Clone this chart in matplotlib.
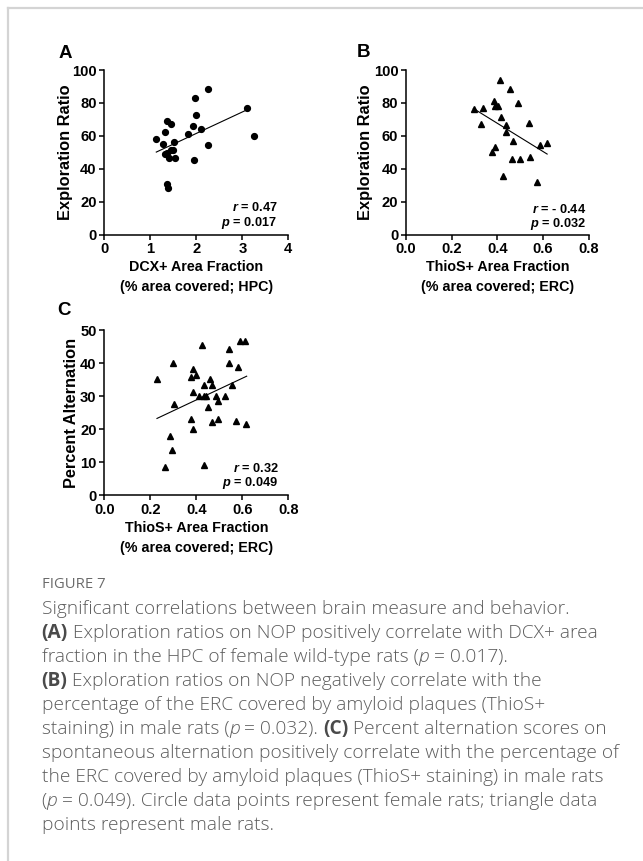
import numpy as np
import matplotlib
matplotlib.use('Agg')
import matplotlib.pyplot as plt
from matplotlib.lines import Line2D

# ---- data ----
# panel A: DCX+ area fraction vs exploration ratio (females, circles)
dcx_a = [1.13, 1.28, 1.33, 1.37, 1.46, 1.31, 1.37, 1.44, 1.50, 1.52, 1.41, 1.53,
         1.36, 1.39, 1.81, 1.92, 1.97, 2.00, 2.10, 1.95, 2.25, 2.25, 3.11, 3.25]
expl_a = [57.8, 54.8, 62.3, 69.0, 67.0, 49.2, 49.8, 51.6, 51.6, 56.0, 46.4, 46.4,
          30.8, 28.4, 61.0, 66.1, 82.8, 72.8, 64.1, 45.3, 88.2, 54.4, 76.7, 59.6]
fit_a_x = [1.13, 3.14]
fit_a_y = [50.1, 76.3]

# panel B: ThioS+ area fraction (ERC) vs exploration ratio (males, triangles)
thio_b = [0.298, 0.337, 0.327, 0.387, 0.390, 0.401, 0.413, 0.416, 0.438, 0.439,
          0.454, 0.390, 0.378, 0.470, 0.491, 0.464, 0.498, 0.426, 0.540, 0.545,
          0.588, 0.619, 0.574]
expl_b = [76.3, 77.1, 67.1, 81.3, 77.9, 77.9, 94.1, 71.6, 66.5, 62.5,
          88.2, 53.3, 50.1, 56.8, 79.9, 45.6, 46.2, 35.7, 68.0, 47.1,
          54.6, 55.8, 32.0]
fit_b_x = [0.295, 0.618]
fit_b_y = [76.6, 48.9]

# panel C: ThioS+ area fraction (ERC) vs percent alternation (males, triangles)
thio_c = [0.230, 0.297, 0.265, 0.286, 0.294, 0.301, 0.375, 0.387, 0.386, 0.375,
          0.397, 0.386, 0.410, 0.425, 0.433, 0.433, 0.442, 0.449, 0.435, 0.461,
          0.470, 0.468, 0.487, 0.494, 0.493, 0.525, 0.543, 0.541, 0.554, 0.583,
          0.590, 0.613, 0.571, 0.616]
alt_c = [35.1, 40.1, 8.4, 17.9, 13.6, 27.7, 23.1, 20.1, 38.1, 35.7,
         36.3, 31.3, 29.9, 45.6, 33.3, 29.9, 29.9, 26.8, 9.2, 35.3,
         33.2, 22.1, 29.9, 28.5, 23.0, 29.9, 39.9, 44.3, 33.3, 38.8,
         46.8, 46.8, 22.5, 21.5]
fit_c_x = [0.229, 0.619]
fit_c_y = [23.2, 36.0]

W, H = 643, 861
fig = plt.figure(figsize=(W / 100, H / 100), dpi=100)
fig.patch.set_facecolor('white')

ARIAL = 'Liberation Sans'
plt.rcParams['mathtext.fontset'] = 'custom'
plt.rcParams['mathtext.bfit'] = ARIAL + ':italic:bold'
plt.rcParams['mathtext.it'] = ARIAL + ':italic:bold'


def px_axes(left, top, right, bottom):
    return fig.add_axes([left / W, 1 - bottom / H, (right - left) / W, (bottom - top) / H])


def style_axes(ax, xlim, ylim, xticks, yticks, xfmt, ylabel, xlabel, ylab_off):
    ax.set_xlim(*xlim)
    ax.set_ylim(*ylim)
    ax.set_xticks(xticks)
    ax.set_yticks(yticks)
    ax.set_xticklabels([xfmt % v for v in xticks])
    ax.set_yticklabels(['%d' % v for v in yticks])
    for s in ['top', 'right']:
        ax.spines[s].set_visible(False)
    for s in ['left', 'bottom']:
        ax.spines[s].set_linewidth(1.1)
    ax.tick_params(direction='out', length=3.5, width=1.1, pad=2, labelsize=10.6)
    for lab in ax.get_xticklabels() + ax.get_yticklabels():
        lab.set_fontfamily(ARIAL)
        lab.set_fontweight('bold')
    ax.set_ylabel(ylabel, fontfamily=ARIAL, fontweight='bold', fontsize=11.8)
    ax.yaxis.set_label_coords(ylab_off, 0.5)
    ax.set_xlabel(xlabel, fontfamily=ARIAL, fontweight='bold', fontsize=10.3, linespacing=1.5)
    ax.xaxis.set_label_coords(0.5, -0.158)
    ax.patch.set_alpha(0)


def stats_text(ax, x, y_r, y_p, r, p):
    ax.text(x, y_r, r'$\bfit{r}$ = ' + r, transform=ax.transAxes, ha='right', va='center',
            fontfamily=ARIAL, fontweight='bold', fontsize=9.2)
    ax.text(x, y_p, r'$\bfit{p}$ = ' + p, transform=ax.transAxes, ha='right', va='center',
            fontfamily=ARIAL, fontweight='bold', fontsize=9.2)


# panel A
axA = px_axes(104.3, 70, 288.3, 234.5)
axA.plot(dcx_a, expl_a, 'o', color='black', markersize=4.2, clip_on=False)
axA.plot(fit_a_x, fit_a_y, color='black', linewidth=0.8)
style_axes(axA, (0, 4), (0, 100), [0, 1, 2, 3, 4], [0, 20, 40, 60, 80, 100], '%d',
           'Exploration Ratio', 'DCX+ Area Fraction\n(% area covered; HPC)', -0.172)
stats_text(axA, 0.94, 0.167, 0.07, '0.47', '0.017')

# panel B
axB = px_axes(406, 70, 588.7, 234.5)
axB.plot(thio_b, expl_b, '^', color='black', markersize=4.2, clip_on=False)
axB.plot(fit_b_x, fit_b_y, color='black', linewidth=0.8)
style_axes(axB, (0, 0.8), (0, 100), [0, 0.2, 0.4, 0.6, 0.8], [0, 20, 40, 60, 80, 100], '%.1f',
           'Exploration Ratio', 'ThioS+ Area Fraction\n(% area covered; ERC)', -0.183)
stats_text(axB, 0.985, 0.155, 0.064, '- 0.44', '0.032')

# panel C
axC = px_axes(104.3, 330, 288.3, 495)
axC.plot(thio_c, alt_c, '^', color='black', markersize=4.2, clip_on=False)
axC.plot(fit_c_x, fit_c_y, color='black', linewidth=0.8)
style_axes(axC, (0, 0.8), (0, 50), [0, 0.2, 0.4, 0.6, 0.8], [0, 10, 20, 30, 40, 50], '%.1f',
           'Percent Alternation', 'ThioS+ Area Fraction\n(% area covered; ERC)', -0.135)
stats_text(axC, 0.946, 0.158, 0.073, '0.32', '0.049')

# panel letters
for letter, (lx, ly) in zip(['A', 'B', 'C'], [(65.5, 53.3), (363, 52.5), (64, 310.7)]):
    fig.text(lx / W, 1 - ly / H, letter, ha='center', va='center', fontfamily=ARIAL,
             fontweight='bold', fontsize=13.5)

# frame lines (top and left)
fig.add_artist(Line2D([8 / W, 1], [1 - 8 / H, 1 - 8 / H], color='#d4d4d4', linewidth=1.6,
                      transform=fig.transFigure))
fig.add_artist(Line2D([8 / W, 8 / W], [1 - 8 / H, 0], color='#d4d4d4', linewidth=1.6,
                      transform=fig.transFigure))

# caption
CAP_FONT = ['Open Sans', 'DejaVu Sans']
CAP_COLOR = '#5c5c5c'
CAP_SIZE = 13.8
renderer = fig.canvas.get_renderer()


def seg_width(txt, weight, style):
    t1 = fig.text(0, 0, 'x' + txt + 'x', fontfamily=CAP_FONT, fontsize=CAP_SIZE,
                  fontweight=weight, fontstyle=style)
    t2 = fig.text(0, 0, 'xx', fontfamily=CAP_FONT, fontsize=CAP_SIZE,
                  fontweight=weight, fontstyle=style)
    w = t1.get_window_extent(renderer).width - t2.get_window_extent(renderer).width
    t1.remove()
    t2.remove()
    return w


def caption_line(y_px, segments):
    x = 41.5
    for txt, kind in segments:
        weight = 'bold' if kind == 'b' else 300
        style = 'italic' if kind == 'i' else 'normal'
        color = '#4a4a4a' if kind == 'b' else CAP_COLOR
        fig.text(x / W, 1 - y_px / H, txt, fontfamily=CAP_FONT, fontsize=CAP_SIZE,
                 fontweight=weight, fontstyle=style, color=color, va='baseline', ha='left')
        x += seg_width(txt, weight, style)


fig.text(41.5 / W, 1 - 588 / H, 'FIGURE 7', fontfamily=CAP_FONT, fontsize=10.7,
         color='#6b6b6b', va='baseline', ha='left')

caption = [
    [('Significant correlations between brain measure and behavior.', 'n')],
    [('(A)', 'b'), (' Exploration ratios on NOP positively correlate with DCX+ area', 'n')],
    [('fraction in the HPC of female wild-type rats (', 'n'), ('p', 'i'), (' = 0.017).', 'n')],
    [('(B)', 'b'), (' Exploration ratios on NOP negatively correlate with the', 'n')],
    [('percentage of the ERC covered by amyloid plaques (ThioS+', 'n')],
    [('staining) in male rats (', 'n'), ('p', 'i'), (' = 0.032). ', 'n'), ('(C)', 'b'),
     (' Percent alternation scores on', 'n')],
    [('spontaneous alternation positively correlate with the percentage of', 'n')],
    [('the ERC covered by amyloid plaques (ThioS+ staining) in male rats', 'n')],
    [('(', 'n'), ('p', 'i'), (' = 0.049). Circle data points represent female rats; triangle data', 'n')],
    [('points represent male rats.', 'n')],
]
for i, segs in enumerate(caption):
    caption_line(614 + 24 * i, segs)

fig.savefig('out.png', dpi=100, facecolor='white')
